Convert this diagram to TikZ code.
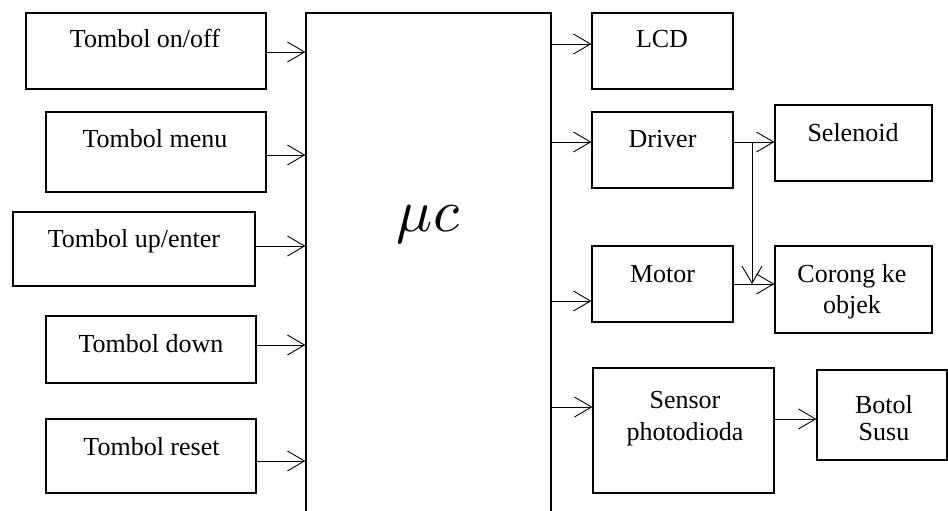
\documentclass[tikz,border=0pt]{standalone}
\usepackage{fontspec}
\setmainfont{Liberation Serif}
\usetikzlibrary{arrows.meta}
\begin{document}
\begin{tikzpicture}[x=1pt,y=-1pt,
  box/.style={draw, line width=1.3pt, inner sep=0pt},
  txt/.style={anchor=base, font=\fontsize{26}{31}\selectfont, inner sep=0pt},
  arr/.style={line width=0.9pt, -{Straight Barb[length=17pt,width=20pt,line width=0.9pt]}}]
\useasboundingbox (0,0) rectangle (948,511);
% left boxes
\node[box, minimum width=240pt, minimum height=76pt] (on) at (146,51) {};
\node[box, minimum width=220pt, minimum height=80pt] (menu) at (156,152) {};
\node[box, minimum width=242pt, minimum height=74pt] (up) at (134,249) {};
\node[box, minimum width=210pt, minimum height=67pt] (down) at (151,349.5) {};
\node[box, minimum width=210pt, minimum height=74pt] (reset) at (151,456) {};
% microcontroller
\node[box, minimum width=245pt, minimum height=527pt] (mc) at (428.5,276.5) {};
% right boxes
\node[box, minimum width=141pt, minimum height=76pt] (lcd) at (662.5,51) {};
\node[box, minimum width=141pt, minimum height=76pt] (drv) at (662.5,150) {};
\node[box, minimum width=157pt, minimum height=76pt] (sel) at (853.5,143) {};
\node[box, minimum width=141pt, minimum height=76pt] (mot) at (662.5,284) {};
\node[box, minimum width=157pt, minimum height=87pt] (cor) at (853.5,289.5) {};
\node[box, minimum width=181pt, minimum height=125pt] (sen) at (683.5,430.5) {};
\node[box, minimum width=130pt, minimum height=90pt] (bot) at (882,415) {};
% texts
\node[txt] (ton) at (145,48) {Tombol on/off};
\node[txt] (tmenu) at (155,147) {Tombol menu};
\node[txt] (tup) at (134,247) {Tombol up/enter};
\node[txt] (tdown) at (151,352) {Tombol down};
\node[txt] (treset) at (151.5,455) {Tombol reset};
\node[anchor=base, inner sep=0pt] (tmc) at (428,231) {\scalebox{6}{$\mu c$}};
\node[txt] (tlcd) at (662,48) {LCD};
\node[txt] (tdrv) at (662.5,147) {Driver};
\node[txt] (tsel) at (853,141) {Selenoid};
\node[txt] (tmot) at (662.5,282) {Motor};
\node[txt] (tcor1) at (852,282) {Corong ke};
\node[txt] (tcor2) at (852,313) {objek};
\node[txt] (tsen1) at (685,408) {Sensor};
\node[txt] (tsen2) at (685,440) {photodioda};
\node[txt] (tbot1) at (884,413) {Botol};
\node[txt] (tbot2) at (884,440) {Susu};
% input arrows
\draw[arr] ([yshift=-1pt]on.east) -- ([yshift=-1pt]on.east -| mc.west);
\draw[arr] ([yshift=-3pt]menu.east) -- ([yshift=-3pt]menu.east -| mc.west);
\draw[arr] ([yshift=3pt]up.east) -- ([yshift=3pt]up.east -| mc.west);
\draw[arr] ([yshift=4.5pt]down.east) -- ([yshift=4.5pt]down.east -| mc.west);
\draw[arr] ([yshift=-5pt]reset.east) -- ([yshift=-5pt]reset.east -| mc.west);
% output arrows
\draw[arr] ([yshift=7pt]lcd.west -| mc.east) -- ([yshift=7pt]lcd.west);
\draw[arr] ([yshift=8pt]drv.west -| mc.east) -- ([yshift=8pt]drv.west);
\draw[arr] ([yshift=-17pt]mot.west -| mc.east) -- ([yshift=-17pt]mot.west);
\draw[arr] ([yshift=23.5pt]sen.west -| mc.east) -- ([yshift=23.5pt]sen.west);
\draw[arr] ([yshift=8pt]drv.east) -- ([yshift=8pt]drv.east -| sel.west);
\coordinate (br) at (752,142);
\draw[arr] (br) -- (br |- mot.east);
\draw[arr] (mot.east) -- (mot.east -| cor.west);
\draw[arr] ([yshift=11.5pt]sen.east) -- ([yshift=11.5pt]sen.east -| bot.west);
\end{tikzpicture}
\end{document}
